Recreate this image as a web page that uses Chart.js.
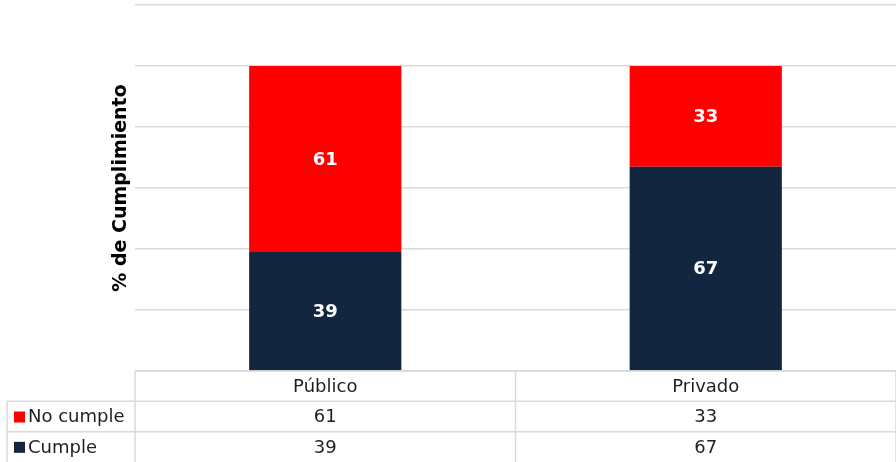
<!DOCTYPE html>
<html>
<head>
<meta charset="utf-8">
<script src="https://cdn.jsdelivr.net/npm/chart.js@4/dist/chart.umd.min.js"></script>
<style>
  html, body { margin: 0; padding: 0; background: #fff; }
</style>
</head>
<body>
<canvas id="chart" width="896" height="462"></canvas>
<script>
// Compliance by sector (percent)
const categories = ['Público', 'Privado'];
const noCumple = [61, 33];
const cumple = [39, 67];
const seriesNames = ['No cumple', 'Cumple'];
const yMax = 120;
const yStep = 20;

const RED = '#ff0000';
const NAVY = '#12263f';
const GRID = '#d9d9d9';
const FONT = 'Verdana, "DejaVu Sans", sans-serif';

// White bold numbers centred in each bar segment
const segmentLabels = {
    id: 'segmentLabels',
    afterDatasetsDraw(chart) {
        const ctx = chart.ctx;
        ctx.save();
        ctx.fillStyle = '#ffffff';
        ctx.font = 'bold 18px ' + FONT;
        ctx.textAlign = 'center';
        ctx.textBaseline = 'middle';
        chart.data.datasets.forEach((ds, di) => {
            chart.getDatasetMeta(di).data.forEach((bar, i) => {
                const p = bar.getProps(['x', 'y', 'base'], true);
                ctx.fillText(String(ds.data[i]), p.x, (p.y + p.base) / 2 + 1);
            });
        });
        ctx.restore();
    }
};

// Data table under the plot, one column per category
const dataTable = {
    id: 'dataTable',
    afterDraw(chart) {
        const ctx = chart.ctx;
        const area = chart.chartArea;
        const xScale = chart.scales.x;
        const top = area.bottom;
        const bottom = chart.height;
        const rowH = (bottom - top) / 3;
        const colW = area.width / categories.length;
        const legendLeft = 7;
        const rows = [
            { name: seriesNames[0], values: noCumple, color: RED },
            { name: seriesNames[1], values: cumple, color: NAVY }
        ];

        ctx.save();
        ctx.strokeStyle = GRID;
        ctx.lineWidth = 1.5;
        ctx.beginPath();
        ctx.moveTo(area.left, top);
        ctx.lineTo(area.right, top);
        for (let r = 1; r <= 2; r++) {
            ctx.moveTo(legendLeft, top + r * rowH);
            ctx.lineTo(area.right, top + r * rowH);
        }
        ctx.moveTo(legendLeft, top + rowH);
        ctx.lineTo(legendLeft, bottom);
        for (let c = 0; c <= categories.length; c++) {
            const x = area.left + c * colW;
            ctx.moveTo(x, top);
            ctx.lineTo(x, bottom);
        }
        ctx.stroke();

        ctx.fillStyle = '#1f1f1f';
        ctx.font = '18px ' + FONT;
        ctx.textBaseline = 'middle';
        ctx.textAlign = 'center';
        categories.forEach((cat, i) => {
            ctx.fillText(cat, xScale.getPixelForValue(i), top + rowH / 2 + 1);
        });

        rows.forEach((row, r) => {
            const cy = top + (r + 1) * rowH + rowH / 2 + 1;
            ctx.fillStyle = row.color;
            ctx.fillRect(14, cy - 6, 11, 11);
            ctx.fillStyle = '#1f1f1f';
            ctx.textAlign = 'left';
            ctx.fillText(row.name, 28, cy);
            ctx.textAlign = 'center';
            row.values.forEach((v, i) => {
                ctx.fillText(String(v), xScale.getPixelForValue(i), cy);
            });
        });
        ctx.restore();
    }
};

new Chart(document.getElementById('chart'), {
    type: 'bar',
    data: {
        labels: categories,
        datasets: [
            { label: seriesNames[1], data: cumple, backgroundColor: NAVY },
            { label: seriesNames[0], data: noCumple, backgroundColor: RED }
        ]
    },
    options: {
        responsive: false,
        animation: false,
        layout: { padding: { left: 110, top: 5, right: 0, bottom: 91 } },
        datasets: { bar: { categoryPercentage: 1, barPercentage: 0.4 } },
        plugins: {
            legend: { display: false },
            tooltip: { enabled: false }
        },
        scales: {
            x: {
                stacked: true,
                ticks: { display: false },
                grid: { display: false },
                border: { display: false },
                afterFit(scale) { scale.height = 0; }
            },
            y: {
                stacked: true,
                min: 0,
                max: yMax,
                ticks: { display: false, stepSize: yStep },
                border: { display: false },
                grid: { color: GRID, lineWidth: 1.5, drawTicks: false },
                title: {
                    display: true,
                    text: '% de Cumplimiento',
                    color: '#000',
                    padding: 0,
                    font: { family: FONT, size: 19, weight: 'bold' }
                },
                afterFit(scale) { scale.width = 25; }
            }
        }
    },
    plugins: [segmentLabels, dataTable]
});
</script>
</body>
</html>
